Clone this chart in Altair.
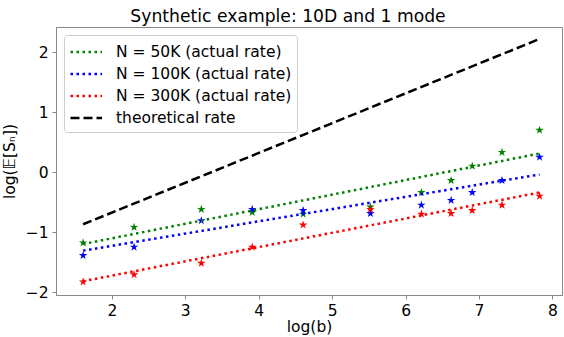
import altair as alt
import pandas as pd

# log(b) positions of the measured points
x_vals = [1.609, 2.303, 3.219, 3.912, 4.605, 5.521, 6.215, 6.620, 6.908, 7.313, 7.824]
y_50k = [-1.18, -0.92, -0.62, -0.67, -0.70, -0.58, -0.34, -0.14, 0.10, 0.33, 0.70]
y_100k = [-1.39, -1.25, -0.81, -0.62, -0.64, -0.69, -0.55, -0.47, -0.34, -0.14, 0.25]
y_300k = [-1.83, -1.71, -1.52, -1.25, -0.88, -0.62, -0.70, -0.69, -0.64, -0.55, -0.40]

# fitted (actual rate) and theoretical line end points
fit_x = [1.609, 7.824]
fit_50k = [-1.20, 0.31]
fit_100k = [-1.31, -0.04]
fit_300k = [-1.82, -0.34]
theory = [-0.87, 2.22]

series = ["N = 50K (actual rate)", "N = 100K (actual rate)",
          "N = 300K (actual rate)", "theoretical rate"]
colors = ["green", "blue", "red", "black"]
dashes = [[2.5, 3.5], [2.5, 3.5], [2.5, 3.5], [9, 4]]

x_ticks = [2, 3, 4, 5, 6, 7, 8]
y_ticks = [-2, -1, 0, 1, 2]

STAR = ("M0,-1L0.223,-0.307L0.951,-0.309L0.361,0.117L0.588,0.809L0,0.38"
        "L-0.588,0.809L-0.361,0.117L-0.951,-0.309L-0.223,-0.307Z")
LEGEND_LINE = "M-1,0L2,0"

rows_pts = []
for name, yv_list in zip(series[:3], [y_50k, y_100k, y_300k]):
    for xv, yv in zip(x_vals, yv_list):
        rows_pts.append({"series": name, "x": xv, "y": yv})
pts = pd.DataFrame(rows_pts)

rows_lines = []
for name, yv_list in zip(series, [fit_50k, fit_100k, fit_300k, theory]):
    for xv, yv in zip(fit_x, yv_list):
        rows_lines.append({"series": name, "x": xv, "y": yv})
lines = pd.DataFrame(rows_lines)

FONT = "DejaVu Sans"

xs = alt.Scale(domain=[1.24, 8.13], nice=False, zero=False)
ys = alt.Scale(domain=[-2.05, 2.42], nice=False, zero=False)

x_axis = alt.Axis(values=x_ticks, format="d", title="log(b)", grid=False, tickSize=4,
                  labelPadding=4, titlePadding=1, labelFontSize=15.5,
                  titleFontSize=15.5, titleFontWeight="normal",
                  labelFont=FONT, titleFont=FONT, labelColor="black",
                  titleColor="black", domainColor="#888", tickColor="#888")
y_axis = alt.Axis(values=y_ticks, format="d", title="log(𝔼[Sₙ])", grid=False, tickSize=4,
                  labelPadding=4, titlePadding=8, labelFontSize=15.5,
                  titleFontSize=15.5, titleFontWeight="normal",
                  labelFont=FONT, titleFont=FONT, labelColor="black",
                  titleColor="black", domainColor="#888", tickColor="#888")

X = alt.X("x:Q", scale=xs, axis=x_axis)
Y = alt.Y("y:Q", scale=ys, axis=y_axis)

leg = dict(title=None, orient="none", legendX=8, legendY=8,
           fillColor="white", strokeColor="#cccccc", cornerRadius=3,
           padding=5, labelFontSize=15.5, labelFont=FONT, labelColor="black",
           symbolType=LEGEND_LINE, symbolSize=441, symbolStrokeWidth=2.5,
           labelOffset=23, rowPadding=1, labelLimit=400)

line_layer = alt.Chart(lines).mark_line(strokeWidth=2.5).encode(
    x=X, y=Y,
    color=alt.Color("series:N", scale=alt.Scale(domain=series, range=colors),
                    legend=alt.Legend(**leg)),
    strokeDash=alt.StrokeDash("series:N", scale=alt.Scale(domain=series, range=dashes),
                              legend=alt.Legend(**leg)),
)

pt_layers = []
for name, col in zip(series[:3], colors[:3]):
    pt_layers.append(
        alt.Chart(pts).transform_filter(alt.datum.series == name)
        .mark_point(shape=STAR, filled=True, size=80, opacity=1, color=col)
        .encode(x=X, y=Y)
    )

chart = alt.layer(*pt_layers, line_layer).properties(
    width=506, height=268,
    padding={"left": 56, "top": 27, "right": 2, "bottom": 42},
    autosize="none",
    title=alt.TitleParams("Synthetic example: 10D and 1 mode", fontSize=17.2,
                          font=FONT, fontWeight="normal", color="black",
                          anchor="middle", dx=-21, offset=2),
).configure_view(stroke="#888", strokeWidth=1)

chart.save("out.html", embed_options={"renderer": "svg", "actions": False})
